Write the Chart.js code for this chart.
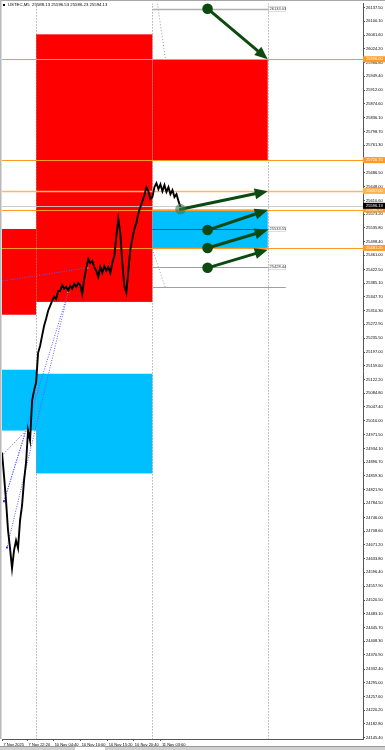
<!DOCTYPE html>
<html><head><meta charset="utf-8">
<script src="https://cdn.jsdelivr.net/npm/chart.js@4.4.1/dist/chart.umd.min.js"></script>
<style>html,body{margin:0;padding:0;background:#fff;}canvas{display:block;}</style>
</head><body>
<canvas id="c" width="385" height="750"></canvas>
<script>
// ---------- DATA ----------
const symbolTitle = "USTEC,M5  25588.13 25596.53 25586.23 25594.13";
// close prices, one sample per column step (x = index)
const priceSeries = [24923,24860,24792,24711,24662,24607,24656,24683,24662,24738,
 24779,24847,24896,24983,24956,25065,25092,25114,25195,25214,
 25242,25269,25288,25310,25323,25337,25348,25342,25364,25364,
 25380,25370,25375,25364,25378,25370,25383,25375,25386,25380,
 25356,25397,25424,25451,25440,25446,25429,25419,25402,25429,
 25413,25432,25419,25429,25413,25440,25459,25514,25560,25522,
 25440,25378,25359,25419,25478,25506,25533,25549,25576,25593,
 25609,25625,25647,25636,25615,25620,25647,25658,25642,25655,
 25636,25653,25634,25647,25628,25639,25620,25628,25609,25593];
const yTickLabels = ["26137.50","26100.10","26061.60","26024.20","25986.80","25949.40","25912.00","25874.60","25836.10","25798.70","25761.30","25723.90","25686.50","25648.00","25610.60","25573.20","25535.80","25498.40","25461.00","25422.50","25385.10","25347.70","25310.30","25272.90","25235.50","25197.00","25159.60","25122.20","25084.80","25047.40","25010.00","24971.50","24934.10","24896.70","24859.30","24821.90","24784.50","24746.00","24708.60","24671.20","24633.80","24596.40","24557.90","24520.50","24483.10","24445.70","24408.30","24370.90","24332.40","24295.00","24257.60","24220.20","24182.80","24145.40"];
const xTickLabels = ["7 Nov 2025","7 Nov 22:20","10 Nov 04:40","10 Nov 10:00","10 Nov 15:20","10 Nov 20:40","11 Nov 03:00"];
const xTickValues = [0,12.5,25.5,39,52.5,65.5,79];
const yMin = 24141.5, yMax = 26148.4, xMin = 0, xMax = 180;
// supply / demand zones
const zoneKind  = ["supply","supply","supply","demand","demand","demand"];
const zoneStart = [0,17,75,0,17,75];
const zoneEnd   = [17,75,132.5,17,75,132.5];
const zoneHigh  = [25533,26064,25996,25149,25138,25586.1];
const zoneLow   = [25299,25334,25720.75,24983,24866,25481.25];
// session separators
const sessionX = [17,75,132.5];
// horizontal price levels
const levelPrices = [25996.00,25720.75,25637.00,25586.10,25481.25];
const bidPrice = 25596.13;
// projection lines (right segment)
const projPrices = [26133.03,25533.55,25428.44,25375.00];
const projLabels = ["26133.03","25533.55","25428.44",""];
const projStart = 75, projEnd = 141.5;
// arrows
const arrowX0 = [102.5,89,102.5,102.5,102.5];
const arrowP0 = [26134,25587,25530,25481,25427];
const arrowX1 = [132.5,132.5,132.5,132.5,132.5];
const arrowP1 = [25996,25636,25585,25530,25476];
// blue dotted swing lines
const swingX0 = [0,33,33,0,1];
const swingP0 = [25391,25361,25361,24915,24790];
const swingX1 = [42.5,1,2.5,12,12];
const swingP1 = [25427,24790,24664,24983,24983];
// grey dotted diagonal guides
const guideX0 = [77.5,75], guideP0 = [26148,25478];
const guideX1 = [81.5,81.5], guideP1 = [25996,25372];

// ---------- DRAW ----------
const FONT = "Liberation Sans, Arial, sans-serif";
const mt = {
  id: 'mt',
  beforeDatasetsDraw(chart) {
    const {ctx, chartArea: a, scales: {x, y}} = chart;
    ctx.save();
    ctx.beginPath(); ctx.rect(a.left, a.top, a.right - a.left, a.bottom - a.top); ctx.clip();
    zoneKind.forEach((k, i) => {
      ctx.fillStyle = k === 'supply' ? '#ff0000' : '#00bfff';
      const x0 = x.getPixelForValue(zoneStart[i]), x1 = x.getPixelForValue(zoneEnd[i]);
      const y0 = y.getPixelForValue(zoneHigh[i]), y1 = y.getPixelForValue(zoneLow[i]);
      ctx.fillRect(x0, y0, x1 - x0, y1 - y0);
    });
    ctx.strokeStyle = '#8a8a8a'; ctx.lineWidth = 1; ctx.setLineDash([1, 2]);
    sessionX.forEach(v => {
      const px = Math.round(x.getPixelForValue(v)) + 0.5;
      ctx.beginPath(); ctx.moveTo(px, a.top); ctx.lineTo(px, a.bottom); ctx.stroke();
    });
    ctx.strokeStyle = '#9a9a9a';
    guideX0.forEach((v, i) => {
      ctx.beginPath();
      ctx.moveTo(x.getPixelForValue(v), y.getPixelForValue(guideP0[i]));
      ctx.lineTo(x.getPixelForValue(guideX1[i]), y.getPixelForValue(guideP1[i]));
      ctx.stroke();
    });
    ctx.strokeStyle = '#5a5aff'; ctx.setLineDash([1, 1.5]);
    swingX0.forEach((v, i) => {
      ctx.beginPath();
      ctx.moveTo(x.getPixelForValue(v), y.getPixelForValue(swingP0[i]));
      ctx.lineTo(x.getPixelForValue(swingX1[i]), y.getPixelForValue(swingP1[i]));
      ctx.stroke();
    });
    ctx.setLineDash([]);
    ctx.strokeStyle = 'rgba(200,200,200,0.9)'; ctx.lineWidth = 1;
    let by = Math.round(y.getPixelForValue(bidPrice)) + 0.5;
    ctx.beginPath(); ctx.moveTo(a.left, by); ctx.lineTo(a.right, by); ctx.stroke();
    projPrices.forEach((p, i) => {
      const py = Math.round(y.getPixelForValue(p)) + 0.5;
      ctx.strokeStyle = i === 1 ? 'rgba(30,30,30,0.6)' : (i === 0 ? '#b0b0b0' : '#a0a0a0');
      ctx.lineWidth = i === 0 ? 1.5 : 1;
      ctx.beginPath(); ctx.moveTo(x.getPixelForValue(projStart), py); ctx.lineTo(x.getPixelForValue(projEnd), py); ctx.stroke();
    });
    levelPrices.forEach((p, i) => {
      const py = Math.round(y.getPixelForValue(p)) + 0.5;
      ctx.strokeStyle = i === 2 ? '#ffb860' : '#ff9a26';
      ctx.lineWidth = i === 2 ? 1.6 : 1;
      ctx.beginPath(); ctx.moveTo(a.left, py); ctx.lineTo(a.right, py); ctx.stroke();
    });
    ctx.fillStyle = '#f0c080';
    [[42.5,25427],[33,25361],[12,24983]].forEach(([vx, vp]) => {
      ctx.fillRect(x.getPixelForValue(vx) - 1, y.getPixelForValue(vp) - 1, 2, 2);
    });
    ctx.fillStyle = '#3030ff';
    [[1,24790],[2.5,24664]].forEach(([vx, vp]) => {
      ctx.fillRect(x.getPixelForValue(vx) - 1, y.getPixelForValue(vp) - 1, 2, 2);
    });
    ctx.restore();
  },
  afterDatasetsDraw(chart) {
    const {ctx, scales: {x, y}} = chart;
    ctx.save();
    ctx.font = '4px ' + FONT; ctx.textBaseline = 'middle'; ctx.textAlign = 'left';
    projLabels.forEach((t, i) => {
      if (!t) return;
      const py = y.getPixelForValue(projPrices[i]);
      const px = x.getPixelForValue(132.5) + 1;
      ctx.fillStyle = '#fff'; ctx.fillRect(px, py - 2.5, 17, 5);
      ctx.strokeStyle = '#bbb'; ctx.lineWidth = 0.5; ctx.strokeRect(px, py - 2.5, 17, 5);
      ctx.fillStyle = '#333'; ctx.fillText(t, px + 0.8, py);
    });
    const green = '#0d4a12';
    arrowX0.forEach((v, i) => {
      const x0 = x.getPixelForValue(v), y0 = y.getPixelForValue(arrowP0[i]);
      const x1 = x.getPixelForValue(arrowX1[i]), y1 = y.getPixelForValue(arrowP1[i]);
      const ang = Math.atan2(y1 - y0, x1 - x0), L = 13, W = 5.5;
      const bx = x1 - L * Math.cos(ang), byy = y1 - L * Math.sin(ang);
      ctx.strokeStyle = green; ctx.lineWidth = 3; ctx.lineCap = 'round';
      ctx.beginPath(); ctx.moveTo(x0, y0); ctx.lineTo(bx, byy); ctx.stroke();
      ctx.fillStyle = green;
      ctx.beginPath(); ctx.moveTo(x1, y1);
      ctx.lineTo(bx + W * Math.sin(ang), byy - W * Math.cos(ang));
      ctx.lineTo(bx - W * Math.sin(ang), byy + W * Math.cos(ang));
      ctx.closePath(); ctx.fill();
      ctx.fillStyle = i === 1 ? 'rgba(60,120,80,0.6)' : green;
      ctx.beginPath(); ctx.arc(x0, y0, 5.3, 0, Math.PI * 2); ctx.fill();
    });
    ctx.restore();
  },
  afterDraw(chart) {
    const {ctx, chartArea: a, scales: {y}} = chart;
    ctx.save();
    ctx.fillStyle = '#a8a8a8'; ctx.fillRect(0, 0, 385, 1);
    ctx.fillStyle = '#b8b8b8'; ctx.fillRect(0, 0, 1.5, a.bottom);
    ctx.fillStyle = '#d0d0d0'; ctx.fillRect(0, 746, 385, 4);
    ctx.fillStyle = '#ffffff'; ctx.fillRect(75, 746, 30, 4);
    ctx.fillStyle = '#808080'; ctx.fillRect(0, 746, 385, 0.7);
    ctx.font = '4.3px ' + FONT; ctx.textBaseline = 'middle'; ctx.textAlign = 'left';
    ctx.fillStyle = '#000'; ctx.fillRect(3, 4, 2, 2);
    ctx.fillText(symbolTitle, 8, 5);
    ctx.font = '4px ' + FONT;
    const box = (p, bg, fg) => {
      const py = y.getPixelForValue(p);
      ctx.fillStyle = bg; ctx.fillRect(a.right, py - 3, 22, 6);
      ctx.fillStyle = fg; ctx.fillText(p.toFixed(2), a.right + 3, py);
    };
    levelPrices.forEach((p, i) => box(p, i === 2 ? '#ffb052' : '#ff9a26', '#fff'));
    box(bidPrice, '#000', '#fff');
    ctx.restore();
  }
};

new Chart(document.getElementById('c'), {
  type: 'line',
  data: { datasets: [{
    data: priceSeries.map((v, i) => ({x: i, y: v})),
    borderColor: '#000', borderWidth: 1.9, pointRadius: 0, tension: 0, fill: false, borderJoinStyle: 'miter'
  }]},
  options: {
    responsive: false, animation: false, devicePixelRatio: 1,
    layout: { padding: { left: 2, top: 2, right: 0, bottom: 0 } },
    plugins: { legend: { display: false }, tooltip: { enabled: false } },
    scales: {
      x: {
        type: 'linear', min: xMin, max: xMax, position: 'bottom',
        afterBuildTicks: s => { s.ticks = xTickValues.map(v => ({value: v})); },
        afterFit: s => { s.height = 11; },
        ticks: { autoSkip: false, maxRotation: 0, minRotation: 0, align: 'start', labelOffset: 1.5, padding: 1,
          font: { size: 4, family: FONT }, color: '#000',
          callback: (v, i) => xTickLabels[i] },
        grid: { drawOnChartArea: false, drawTicks: true, tickLength: 2, color: '#555' },
        border: { display: true, color: '#555', width: 1 }
      },
      y: {
        type: 'linear', position: 'right', min: yMin, max: yMax,
        afterBuildTicks: s => { s.ticks = yTickLabels.map(t => ({value: parseFloat(t)})); },
        afterFit: s => { s.width = 22; },
        ticks: { autoSkip: false, padding: 1, font: { size: 4, family: FONT }, color: '#000',
          callback: (v, i) => yTickLabels[i] },
        grid: { drawOnChartArea: false, drawTicks: true, tickLength: 2, color: '#555' },
        border: { display: true, color: '#555', width: 1 }
      }
    }
  },
  plugins: [mt]
});
</script>
</body></html>
